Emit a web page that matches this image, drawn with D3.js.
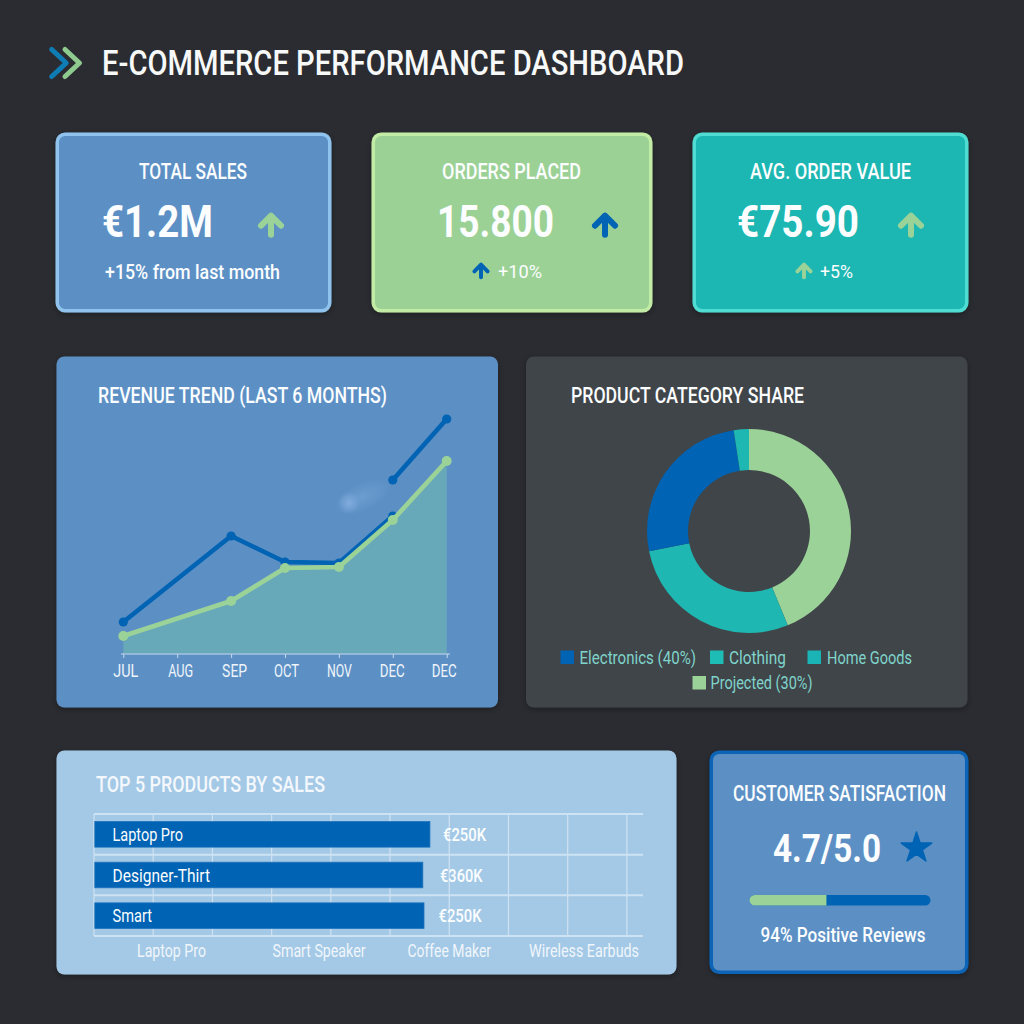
<!DOCTYPE html>
<html>
<head>
<meta charset="utf-8">
<title>E-Commerce Performance Dashboard</title>
<script src="https://cdn.jsdelivr.net/npm/d3@7"></script>
<style>
html,body{margin:0;padding:0;background:#2a2c31}
svg{display:block}
text{font-family:Roboto,"Noto Sans",sans-serif}
</style>
</head>
<body>
<div id="chart"></div>
<script>
// ---- data ----
const dashTitle='E-COMMERCE PERFORMANCE DASHBOARD';
const kpiTitles=['TOTAL SALES','ORDERS PLACED','AVG. ORDER VALUE'];
const kpiValues=['€1.2M','15.800','€75.90'];
const kpiNotes=['+15% from last month','+10%','+5%'];

const months=['JUL','AUG','SEP','OCT','NOV','DEC','DEC'];
const revenueBlue=[32,null,118,92,91,138,null];
const revenueBlueLate=[null,null,null,null,null,174,235];
const revenueGreen=[18,null,53,86,87,134,193];

const shareNames=['Projected','Clothing','Electronics','Home Goods'];
const shareValues=[43.8,28,25.8,2.4];
const legendLabels=['Electronics (40%)','Clothing','Home Goods','Projected (30%)'];

const barNames=['Laptop Pro','Designer-Thirt','Smart'];
const barLengths=[283,277,278];
const barLabels=['€250K','€360K','€250K'];
const barTicks=[0,50,100,150,200,250,300,350,400,450];
const barFooter=['Laptop Pro','Smart Speaker','Coffee Maker','Wireless Earbuds'];

const ratingText='4.7/5.0';
const ratingBar=[42.5,57.5];
const ratingNote='94% Positive Reviews';

// ---- colours ----
const BLUE='#0063b4',GREEN='#9bd298',TEAL='#1fb7b2',PANEL='#5b90c5',WHITE='#fbfdfe';

const svg=d3.select('#chart').append('svg').attr('width',1024).attr('height',1024).attr('viewBox','0 0 1024 1024');
svg.append('rect').attr('width',1024).attr('height',1024).attr('fill','#2a2c31');

const defs=svg.append('defs');
const glow=defs.append('radialGradient').attr('id','glow');
glow.append('stop').attr('offset','0%').attr('stop-color','#84aee0').attr('stop-opacity',0.9);
glow.append('stop').attr('offset','100%').attr('stop-color','#84aee0').attr('stop-opacity',0);
const shadow=defs.append('filter').attr('id','shadow').attr('x','-5%').attr('y','-5%').attr('width','110%').attr('height','110%');
shadow.append('feDropShadow').attr('dx',0).attr('dy',2).attr('stdDeviation',3).attr('flood-color','#000').attr('flood-opacity',0.3);

// text squeezed to run from x0 to x1, like the narrow face of the original
function label(x0,x1,y,txt,size,fill,weight){
  return svg.append('text').attr('x',x0).attr('y',y)
    .attr('textLength',x1-x0).attr('lengthAdjust','spacingAndGlyphs')
    .attr('fill',fill||WHITE).style('font-size',size+'px').style('font-weight',weight||400).text(txt);
}
function panel(x0,y0,x1,y1,fill,stroke,sw){
  const s=sw||0;
  svg.append('rect').attr('x',x0+s/2).attr('y',y0+s/2).attr('width',x1-x0-s).attr('height',y1-y0-s)
    .attr('rx',8).attr('fill',fill).attr('stroke',stroke||'none').attr('stroke-width',s)
    .attr('filter','url(#shadow)');
}
function arrow(cx,top,k,color){
  const p=d3.path();
  p.moveTo(cx,top+22*k);p.lineTo(cx,top+3*k);
  p.moveTo(cx-10*k,top+13*k);p.lineTo(cx,top+3*k);p.lineTo(cx+10*k,top+13*k);
  svg.append('path').attr('d',p.toString()).attr('fill','none').attr('stroke',color)
    .attr('stroke-width',6*k).attr('stroke-linecap','round').attr('stroke-linejoin','round');
}

// ---- header ----
[[51.7,'#0f7db5'],[65,'#8fcb8f']].forEach(([x,c])=>{
  svg.append('path').attr('d',d3.line()([[x,49.5],[x+14.5,63],[x,76.5]]))
    .attr('fill','none').attr('stroke',c).attr('stroke-width',5)
    .attr('stroke-linecap','round').attr('stroke-linejoin','round');
});
label(102,684,75,dashTitle,35,'#f7f8f8',500);

// ---- KPI cards ----
panel(55.5,132.5,331.5,312.5,PANEL,'#8fc3ee',3.5);
panel(371.5,132.5,652.5,312.5,'#9cd196','#c2eba6',3.5);
panel(692.5,132.5,968.5,312.5,TEAL,'#50ddd3',3.5);

label(139,247,179,kpiTitles[0],22,WHITE,500);
label(102,213,237,kpiValues[0],45,WHITE,700);
label(105,280,278.5,kpiNotes[0],19.5,WHITE,500);
arrow(271,212.7,1,GREEN);

label(442,581,179,kpiTitles[1],22,WHITE,500);
label(437,554,237,kpiValues[1],45,WHITE,700);
label(498,542,278,kpiNotes[1],19,WHITE,400);
arrow(605,212.7,1,BLUE);
arrow(481,262.7,0.66,BLUE);

label(750,911,179,kpiTitles[2],22,WHITE,500);
label(737,859,237,kpiValues[2],45,WHITE,700);
label(820,853,278,kpiNotes[2],19,WHITE,400);
arrow(911,212.7,1,GREEN);
arrow(804,262.7,0.66,GREEN);

// ---- revenue trend ----
panel(56.5,356.5,498,707.5,PANEL);
label(98,387,402.5,'REVENUE TREND (LAST 6 MONTHS)',22,WHITE,500);

const xRev=d3.scalePoint().domain(d3.range(months.length)).range([123.3,446.7]);
const yRev=d3.scaleLinear().domain([0,235]).range([654,419]);
const pts=arr=>arr.map((v,i)=>({i,v})).filter(d=>d.v!=null);

const revArea=d3.area().x(d=>xRev(d.i)).y0(yRev(0)).y1(d=>yRev(d.v));
const revLine=d3.line().x(d=>xRev(d.i)).y(d=>yRev(d.v));

// soft smudge above the line, bright at its lower left end
svg.append('ellipse').attr('cx',362).attr('cy',497).attr('rx',30).attr('ry',14)
  .attr('transform','rotate(-24 362 497)').attr('fill','url(#glow)').attr('opacity',0.45);
svg.append('circle').attr('cx',349).attr('cy',503).attr('r',11).attr('fill','url(#glow)');
svg.append('path').datum(pts(revenueGreen)).attr('d',revArea).attr('fill','#67a9b8');

const tickNudge=[2,3,3,1,0,-1,-3];
const revAxis=svg.append('g').attr('transform',`translate(0,${yRev(0)})`)
  .call(d3.axisBottom(xRev).tickSize(4).tickPadding(6).tickFormat(i=>months[i]));
revAxis.select('.domain').attr('d','M121,0H450').attr('stroke','#a3c3df').attr('stroke-width',1.5);
revAxis.selectAll('.tick line').attr('stroke','#c4d9ec');
revAxis.selectAll('.tick text').attr('fill','#eef4fa').style('font-size','18px')
  .style('font-family','Roboto,sans-serif').attr('dx',(d,i)=>tickNudge[i])
  .attr('textLength',25).attr('lengthAdjust','spacingAndGlyphs');

[[revenueBlue,BLUE,4.6],[revenueBlueLate,BLUE,4.6],[revenueGreen,GREEN,5]].forEach(([arr,c,r])=>{
  svg.append('path').datum(pts(arr)).attr('d',revLine).attr('fill','none').attr('stroke',c)
    .attr('stroke-width',4.6).attr('stroke-linejoin','round');
  svg.selectAll(null).data(pts(arr)).enter().append('circle')
    .attr('cx',d=>xRev(d.i)).attr('cy',d=>yRev(d.v)).attr('r',r).attr('fill',c);
});

// ---- category share ----
panel(526,356.5,967.5,707.5,'#414449');
label(571,804,402.5,'PRODUCT CATEGORY SHARE',22,WHITE,500);

const shareColor=d3.scaleOrdinal().domain(shareNames).range([GREEN,TEAL,BLUE,TEAL]);
const pie=d3.pie().sort(null).value(d=>d.v);
const arc=d3.arc().innerRadius(61).outerRadius(102);
svg.append('g').attr('transform','translate(749,531)')
  .selectAll('path').data(pie(shareNames.map((n,i)=>({n,v:shareValues[i]})))).enter().append('path')
  .attr('d',arc).attr('fill',d=>shareColor(d.data.n));

const legendX=[[560.5,579.5,696,650.5],[710,729,786,650.5],[807.5,827,912,650.5],[692.5,710.5,812.5,676]];
const legendFill=[BLUE,'#1dbdb5','#1bb4b6',GREEN];
legendLabels.forEach((t,i)=>{
  const [sx,x0,x1,sy]=legendX[i];
  svg.append('rect').attr('x',sx).attr('y',sy).attr('width',13.5).attr('height',13.5).attr('fill',legendFill[i]);
  label(x0,x1,sy+13,t,18,'#7fd4cc',400);
});

// ---- top products ----
panel(56.5,750.5,676.5,974.5,'#a4c9e6');
label(96,325,791.5,'TOP 5 PRODUCTS BY SALES',22.5,'#f4f8fc',500);

const xBar=d3.scaleLinear().domain([0,463.6]).range([94,643]);
const yBar=d3.scaleBand().domain(barNames).range([814,936]).paddingInner(0.37).paddingOuter(0.185);

svg.append('g').selectAll('line').data(barTicks).enter().append('line')
  .attr('x1',d=>xBar(d)).attr('x2',d=>xBar(d)).attr('y1',814).attr('y2',936)
  .attr('stroke','#cfe2f2').attr('stroke-width',1.2);
svg.append('g').selectAll('line').data(d3.range(barNames.length+1)).enter().append('line')
  .attr('x1',xBar(0)).attr('x2',xBar.range()[1])
  .attr('y1',d=>814+d*yBar.step()).attr('y2',d=>814+d*yBar.step())
  .attr('stroke','#cde2f3').attr('stroke-width',2);

svg.append('g').selectAll('rect').data(barNames).enter().append('rect')
  .attr('x',xBar(0)+0.8).attr('y',d=>yBar(d))
  .attr('width',(d,i)=>xBar(barLengths[i])-xBar(0))
  .attr('height',yBar.bandwidth()).attr('fill',BLUE).attr('stroke','#1f74bd').attr('stroke-width',0.8);

const barTextX=[[112.5,183],[112.5,210],[112.5,152]];
const barValX=[[443,486],[440,482.5],[438.5,481.5]];
barNames.forEach((n,i)=>{
  const base=yBar(n)+yBar.bandwidth()/2+6.8;
  label(barTextX[i][0],barTextX[i][1],base,n,19,WHITE,400);
  label(barValX[i][0],barValX[i][1],base,barLabels[i],19,WHITE,500);
});
const footerX=[[137,206],[272.5,365.5],[407.5,491],[529,639]];
barFooter.forEach((t,i)=>label(footerX[i][0],footerX[i][1],957,t,18,'#f0f6fb',400));

// ---- customer satisfaction ----
panel(709.5,750.5,968.5,974,PANEL,'#0a64b5',3.5);
label(733,946,800.5,'CUSTOMER SATISFACTION',22,WHITE,500);
label(773,881,861.5,ratingText,38,WHITE,700);
svg.append('path').attr('d',d3.symbol(d3.symbolStar,290)())
  .attr('transform','translate(916.5,848)').attr('fill',BLUE)
  .attr('stroke',BLUE).attr('stroke-width',1.5).attr('stroke-linejoin','round');

const xRate=d3.scaleLinear().domain([0,100]).range([749.5,930.5]);
svg.append('rect').attr('x',xRate(0)).attr('y',895).attr('width',xRate(100)-xRate(0)).attr('height',10.5)
  .attr('rx',5.2).attr('fill',BLUE);
svg.append('path').attr('fill',GREEN)
  .attr('d',`M${xRate(ratingBar[0])},895H${xRate(0)+5.2}a5.2,5.2 0 0 0 0,10.5H${xRate(ratingBar[0])}Z`);
label(760.5,925.5,942,ratingNote,20,WHITE,500);
</script>
</body>
</html>
